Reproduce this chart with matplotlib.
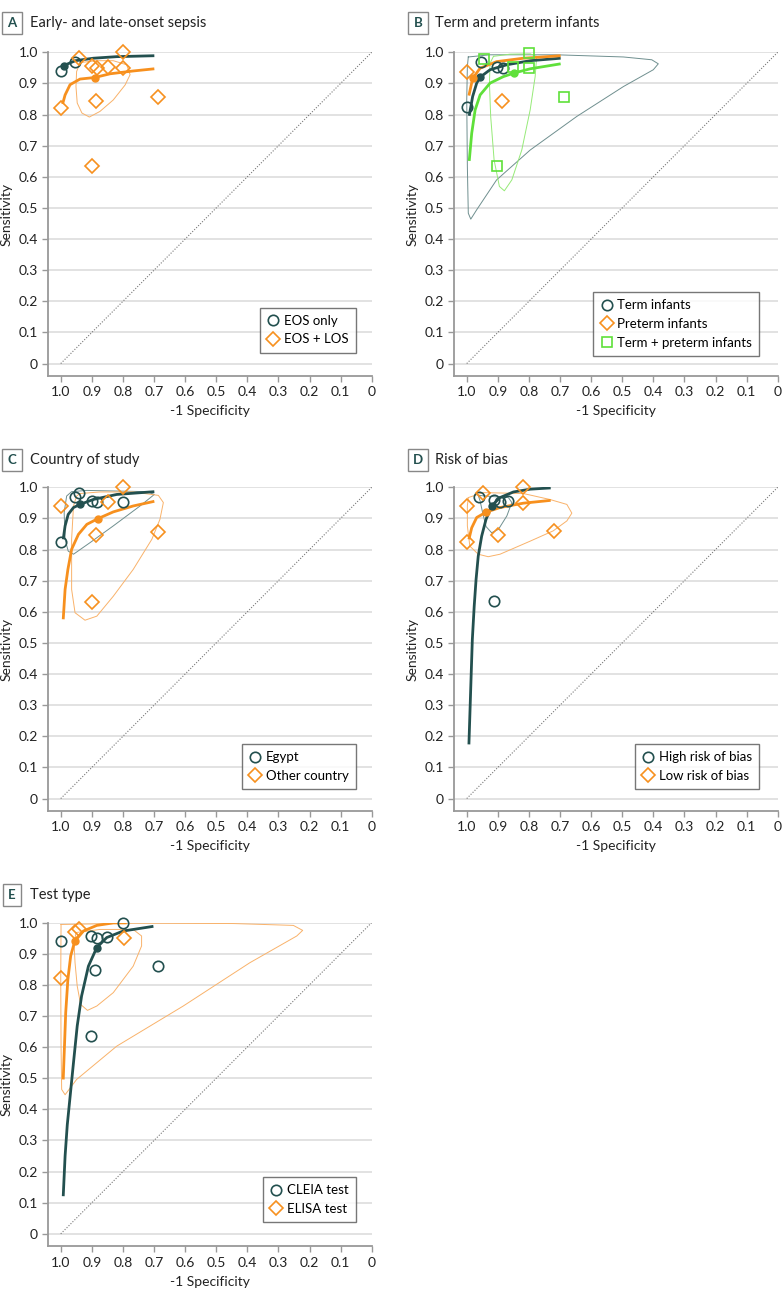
"""
SROC plots by subgroup - 5 panels (A-E)
"""
import matplotlib
matplotlib.use('Agg')
import matplotlib.pyplot as plt
from matplotlib.lines import Line2D
from matplotlib.ticker import FuncFormatter

plt.rcParams['font.family'] = ['Lato', 'DejaVu Sans']

DARK = '#23504f'
ORANGE = '#f7901e'
GREEN = '#5fe03a'
DARK_REG = '#6f8f8f'
ORANGE_REG = '#f9b26a'
GREEN_REG = '#96ea78'

# ── Panel A: early- and late-onset sepsis ──
A_EOS_SPEC = [1.000, 0.953]
A_EOS_SENS = [0.940, 0.969]
A_EOS_SUM = [0.989, 0.957]
A_EOS_CURVE_SPEC = [0.999, 0.989, 0.953, 0.895, 0.820, 0.699]
A_EOS_CURVE_SENS = [0.951, 0.958, 0.973, 0.981, 0.986, 0.989]

A_LOS_SPEC = [0.941, 0.898, 0.884, 0.849, 0.799, 0.799, 1.000, 0.888, 0.687, 0.898]
A_LOS_SENS = [0.981, 0.956, 0.948, 0.953, 1.000, 0.949, 0.822, 0.845, 0.856, 0.635]
A_LOS_SUM = [0.891, 0.919]
A_LOS_CURVE_SPEC = [0.994, 0.986, 0.970, 0.938, 0.891, 0.841, 0.767, 0.699]
A_LOS_CURVE_SENS = [0.834, 0.863, 0.896, 0.914, 0.919, 0.931, 0.940, 0.947]
A_LOS_REG_SPEC = [0.938, 0.884, 0.831, 0.788, 0.777, 0.793, 0.831, 0.874, 0.908,
                  0.932, 0.947, 0.951, 0.949]
A_LOS_REG_SENS = [0.967, 0.973, 0.973, 0.960, 0.928, 0.895, 0.847, 0.810, 0.792,
                  0.805, 0.837, 0.890, 0.938]

# ── Panel B: term and preterm infants ──
B_TERM_SPEC = [1.000, 0.954, 0.902, 0.882]
B_TERM_SENS = [0.824, 0.968, 0.954, 0.949]
B_TERM_SUM = [0.957, 0.920]
B_TERM_CURVE_SPEC = [0.992, 0.981, 0.968, 0.957, 0.925, 0.871, 0.796, 0.698]
B_TERM_CURVE_SENS = [0.796, 0.858, 0.901, 0.920, 0.944, 0.960, 0.973, 0.981]
B_TERM_REG_SPEC = [0.995, 0.925, 0.711, 0.496, 0.405, 0.384, 0.400, 0.496, 0.646,
                   0.796, 0.904, 0.968, 0.987, 0.995, 0.998, 1.000, 0.998]
B_TERM_REG_SENS = [0.985, 0.992, 0.992, 0.985, 0.976, 0.963, 0.944, 0.890, 0.794,
                   0.686, 0.590, 0.494, 0.464, 0.483, 0.633, 0.847, 0.954]

B_PRE_SPEC = [1.000, 0.887]
B_PRE_SENS = [0.937, 0.845]
B_PRE_SUM = [0.981, 0.916]
B_PRE_CURVE_SPEC = [0.993, 0.981, 0.957, 0.904, 0.818, 0.698]
B_PRE_CURVE_SENS = [0.861, 0.916, 0.949, 0.970, 0.981, 0.989]

B_MIX_SPEC = [0.943, 0.800, 0.850, 0.800, 0.688, 0.902]
B_MIX_SENS = [0.978, 0.999, 0.952, 0.949, 0.857, 0.634]
B_MIX_SUM = [0.849, 0.933]
B_MIX_CURVE_SPEC = [0.992, 0.984, 0.973, 0.957, 0.925, 0.882, 0.849, 0.796, 0.698]
B_MIX_CURVE_SENS = [0.651, 0.740, 0.815, 0.863, 0.901, 0.922, 0.933, 0.947, 0.963]
B_MIX_REG_SPEC = [0.914, 0.861, 0.796, 0.775, 0.780, 0.796, 0.823, 0.855, 0.879,
                  0.895, 0.912, 0.923, 0.927, 0.925]
B_MIX_REG_SENS = [0.987, 0.994, 0.995, 0.987, 0.922, 0.815, 0.686, 0.590, 0.555,
                  0.569, 0.654, 0.794, 0.901, 0.965]

# ── Panel C: country of study ──
C_EGY_SPEC = [1.000, 0.953, 0.941, 0.900, 0.883, 0.800]
C_EGY_SENS = [0.825, 0.970, 0.982, 0.957, 0.952, 0.952]
C_EGY_SUM = [0.938, 0.945]
C_EGY_CURVE_SPEC = [0.992, 0.986, 0.976, 0.959, 0.938, 0.895, 0.820, 0.699]
C_EGY_CURVE_SENS = [0.833, 0.876, 0.913, 0.935, 0.945, 0.961, 0.977, 0.986]
C_EGY_REG_SPEC = [0.986, 0.989, 0.981, 0.965, 0.916, 0.820, 0.723, 0.699, 0.745,
                  0.831, 0.906, 0.959, 0.976]
C_EGY_REG_SENS = [0.833, 0.919, 0.972, 0.986, 0.990, 0.988, 0.986, 0.977, 0.940,
                  0.876, 0.822, 0.785, 0.795]

C_OTH_SPEC = [0.999, 0.799, 0.849, 0.887, 0.687, 0.898]
C_OTH_SENS = [0.939, 1.000, 0.954, 0.846, 0.856, 0.633]
C_OTH_SUM = [0.881, 0.899]
C_OTH_CURVE_SPEC = [0.992, 0.986, 0.977, 0.965, 0.943, 0.916, 0.881, 0.831, 0.767, 0.699]
C_OTH_CURVE_SENS = [0.576, 0.672, 0.736, 0.801, 0.849, 0.881, 0.899, 0.921, 0.940, 0.955]
C_OTH_REG_SPEC = [0.938, 0.874, 0.767, 0.686, 0.670, 0.681, 0.707, 0.767, 0.831,
                  0.884, 0.922, 0.954, 0.965, 0.965, 0.959, 0.949]
C_OTH_REG_SENS = [0.980, 0.985, 0.985, 0.974, 0.951, 0.897, 0.833, 0.736, 0.650,
                  0.586, 0.573, 0.597, 0.672, 0.833, 0.940, 0.972]

# ── Panel D: risk of bias ──
D_HIGH_SPEC = [0.959, 0.913, 0.893, 0.866, 0.911]
D_HIGH_SENS = [0.970, 0.958, 0.952, 0.956, 0.636]
D_HIGH_SUM = [0.920, 0.940]
D_HIGH_CURVE_SPEC = [0.993, 0.986, 0.982, 0.976, 0.970, 0.963, 0.952, 0.938, 0.920,
                     0.893, 0.850, 0.796, 0.730]
D_HIGH_CURVE_SENS = [0.174, 0.390, 0.511, 0.618, 0.704, 0.779, 0.843, 0.897, 0.940,
                     0.967, 0.985, 0.994, 0.998]
D_HIGH_REG_SPEC = [0.963, 0.914, 0.866, 0.855, 0.871, 0.898, 0.920, 0.938, 0.949, 0.957]
D_HIGH_REG_SENS = [0.974, 0.970, 0.967, 0.951, 0.908, 0.865, 0.854, 0.874, 0.919, 0.956]

D_LOW_SPEC = [1.000, 0.948, 0.820, 0.820, 1.000, 0.900, 0.720]
D_LOW_SENS = [0.939, 0.981, 1.000, 0.951, 0.825, 0.847, 0.858]
D_LOW_SUM = [0.938, 0.920]
D_LOW_CURVE_SPEC = [0.993, 0.984, 0.968, 0.938, 0.893, 0.818, 0.730]
D_LOW_CURVE_SENS = [0.833, 0.870, 0.903, 0.920, 0.935, 0.949, 0.958]
D_LOW_REG_SPEC = [0.995, 0.947, 0.818, 0.733, 0.678, 0.662, 0.678, 0.722, 0.796,
                  0.893, 0.931, 0.963, 0.990, 0.998, 0.998]
D_LOW_REG_SENS = [0.967, 0.983, 0.980, 0.961, 0.945, 0.917, 0.892, 0.860, 0.827,
                  0.785, 0.777, 0.785, 0.811, 0.876, 0.940]

# ── Panel E: test type ──
E_CLEIA_SPEC = [1.000, 0.903, 0.884, 0.850, 0.800, 0.891, 0.687, 0.902]
E_CLEIA_SENS = [0.941, 0.958, 0.951, 0.955, 1.000, 0.849, 0.860, 0.637]
E_CLEIA_SUM = [0.884, 0.920]
E_CLEIA_CURVE_SPEC = [0.992, 0.986, 0.979, 0.970, 0.959, 0.947, 0.933, 0.911, 0.884,
                      0.852, 0.799, 0.702]
E_CLEIA_CURVE_SENS = [0.121, 0.250, 0.350, 0.440, 0.550, 0.668, 0.764, 0.860, 0.920,
                      0.952, 0.973, 0.988]

E_ELISA_SPEC = [0.955, 0.942, 1.000, 0.797]
E_ELISA_SENS = [0.970, 0.981, 0.823, 0.949]
E_ELISA_SUM = [0.955, 0.940]
E_ELISA_CURVE_SPEC = [0.992, 0.988, 0.984, 0.977, 0.968, 0.955, 0.927, 0.884, 0.831, 0.788]
E_ELISA_CURVE_SENS = [0.496, 0.603, 0.711, 0.818, 0.893, 0.940, 0.973, 0.991, 0.999, 0.999]
E_ELISA_REG1_SPEC = [0.999, 0.767, 0.445, 0.252, 0.222, 0.241, 0.392, 0.606, 0.820,
                     0.949, 0.986, 0.997, 0.999, 1.000]
E_ELISA_REG1_SENS = [0.994, 0.998, 0.997, 0.991, 0.975, 0.957, 0.871, 0.732, 0.603,
                     0.496, 0.447, 0.464, 0.603, 0.818]
E_ELISA_REG2_SPEC = [0.951, 0.874, 0.767, 0.740, 0.740, 0.767, 0.831, 0.884, 0.914,
                     0.936, 0.947, 0.954, 0.957]
E_ELISA_REG2_SENS = [0.968, 0.978, 0.978, 0.957, 0.925, 0.860, 0.775, 0.732, 0.718,
                     0.737, 0.796, 0.871, 0.930]

TICKS = [1.0, 0.9, 0.8, 0.7, 0.6, 0.5, 0.4, 0.3, 0.2, 0.1, 0.0]


def fmt(v, _):
    return '0' if abs(v) < 1e-9 else f'{v:.1f}'


def group(label, marker, color, reg_color, spec, sens, summ, cspec, csens, regions=()):
    return dict(label=label, marker=marker, color=color, reg_color=reg_color,
                spec=spec, sens=sens, summ=summ, cspec=cspec, csens=csens,
                regions=regions)


def draw_panel(ax, groups, legend_anchor):
    ax.set_xlim(1.04, 0)
    ax.set_ylim(-0.04, 1.0)
    ax.set_xticks(TICKS)
    ax.set_yticks(TICKS)
    ax.xaxis.set_major_formatter(FuncFormatter(fmt))
    ax.yaxis.set_major_formatter(FuncFormatter(fmt))
    ax.tick_params(labelsize=10, labelcolor='#222', length=4, width=1, color='#999')
    ax.grid(axis='y', color='#dddddd', linewidth=1.2)
    ax.set_axisbelow(True)
    for s in ('top', 'right'):
        ax.spines[s].set_visible(False)
    for s in ('left', 'bottom'):
        ax.spines[s].set_color('#999')
        ax.spines[s].set_linewidth(1.3)

    ax.plot([1, 0], [0, 1], linestyle=(0, (1, 1.5)), color='#777', linewidth=0.8)

    for g in groups:
        for rs, rn in g['regions']:
            ax.plot(list(rs) + [rs[0]], list(rn) + [rn[0]], color=g['reg_color'],
                    linewidth=0.7, zorder=2)
    for g in groups:
        ax.plot(g['cspec'], g['csens'], color=g['color'], linewidth=2.0,
                solid_capstyle='butt', solid_joinstyle='round', zorder=3)
        ax.plot(g['spec'], g['sens'], linestyle='none', marker=g['marker'],
                ms=7 if g['marker'] == 'D' else 7.5, mfc='none', mec=g['color'],
                mew=1.2, clip_on=False, zorder=4)
        ax.plot([g['summ'][0]], [g['summ'][1]], marker='o', ms=5, color=g['color'],
                linestyle='none', zorder=5)

    handles = [Line2D([], [], linestyle='none', marker=g['marker'], mfc='none',
                      mec=g['color'], mew=1.2, ms=7 if g['marker'] == 'D' else 7.5)
               for g in groups]
    leg = ax.legend(handles, [g['label'] for g in groups], loc='lower right',
                    bbox_to_anchor=legend_anchor, fontsize=9.5, frameon=True,
                    fancybox=False, edgecolor='#555', handlelength=0.9,
                    handletextpad=0.35, borderpad=0.55, labelspacing=0.5,
                    borderaxespad=0)
    leg.get_frame().set_linewidth(1.0)

    ax.set_ylabel('Sensitivity', fontsize=10, color='#222')
    ax.yaxis.set_label_coords(-0.112, 0.5)
    ax.set_xlabel('-1 Specificity', fontsize=10, color='#222', labelpad=5)


def panel_title(fig, x_box, x_text, y, letter, text):
    fig.text(x_box, y, letter, ha='center', va='center', fontsize=9.5,
             fontweight='bold', color=DARK,
             bbox=dict(boxstyle='square,pad=0.4', fc='white', ec='#888', lw=1.0))
    fig.text(x_text, y, text, ha='left', va='center', fontsize=10.5, color='#222')


fig = plt.figure(figsize=(7.83, 13.01), dpi=100)
W, H = 323.4 / 783, 323.7 / 1301
axA = fig.add_axes([48.3 / 783, 1 - 376 / 1301, W, H])
axB = fig.add_axes([454.3 / 783, 1 - 376 / 1301, W, H])
axC = fig.add_axes([48.3 / 783, 1 - 811 / 1301, W, H])
axD = fig.add_axes([454.3 / 783, 1 - 811 / 1301, W, H])
axE = fig.add_axes([48.3 / 783, 1 - 1246.3 / 1301, W, H])

draw_panel(axA, [
    group('EOS only', 'o', DARK, DARK_REG, A_EOS_SPEC, A_EOS_SENS, A_EOS_SUM,
          A_EOS_CURVE_SPEC, A_EOS_CURVE_SENS),
    group('EOS + LOS', 'D', ORANGE, ORANGE_REG, A_LOS_SPEC, A_LOS_SENS, A_LOS_SUM,
          A_LOS_CURVE_SPEC, A_LOS_CURVE_SENS, [(A_LOS_REG_SPEC, A_LOS_REG_SENS)]),
], (0.951, 0.072))

draw_panel(axB, [
    group('Term infants', 'o', DARK, DARK_REG, B_TERM_SPEC, B_TERM_SENS, B_TERM_SUM,
          B_TERM_CURVE_SPEC, B_TERM_CURVE_SENS, [(B_TERM_REG_SPEC, B_TERM_REG_SENS)]),
    group('Preterm infants', 'D', ORANGE, ORANGE_REG, B_PRE_SPEC, B_PRE_SENS, B_PRE_SUM,
          B_PRE_CURVE_SPEC, B_PRE_CURVE_SENS),
    group('Term + preterm infants', 's', GREEN, GREEN_REG, B_MIX_SPEC, B_MIX_SENS,
          B_MIX_SUM, B_MIX_CURVE_SPEC, B_MIX_CURVE_SENS,
          [(B_MIX_REG_SPEC, B_MIX_REG_SENS)]),
], (0.943, 0.062))

draw_panel(axC, [
    group('Egypt', 'o', DARK, DARK_REG, C_EGY_SPEC, C_EGY_SENS, C_EGY_SUM,
          C_EGY_CURVE_SPEC, C_EGY_CURVE_SENS, [(C_EGY_REG_SPEC, C_EGY_REG_SENS)]),
    group('Other country', 'D', ORANGE, ORANGE_REG, C_OTH_SPEC, C_OTH_SENS, C_OTH_SUM,
          C_OTH_CURVE_SPEC, C_OTH_CURVE_SENS, [(C_OTH_REG_SPEC, C_OTH_REG_SENS)]),
], (0.951, 0.067))

draw_panel(axD, [
    group('High risk of bias', 'o', DARK, DARK_REG, D_HIGH_SPEC, D_HIGH_SENS, D_HIGH_SUM,
          D_HIGH_CURVE_SPEC, D_HIGH_CURVE_SENS, [(D_HIGH_REG_SPEC, D_HIGH_REG_SENS)]),
    group('Low risk of bias', 'D', ORANGE, ORANGE_REG, D_LOW_SPEC, D_LOW_SENS, D_LOW_SUM,
          D_LOW_CURVE_SPEC, D_LOW_CURVE_SENS, [(D_LOW_REG_SPEC, D_LOW_REG_SENS)]),
], (0.943, 0.068))

draw_panel(axE, [
    group('CLEIA test', 'o', DARK, DARK_REG, E_CLEIA_SPEC, E_CLEIA_SENS, E_CLEIA_SUM,
          E_CLEIA_CURVE_SPEC, E_CLEIA_CURVE_SENS),
    group('ELISA test', 'D', ORANGE, ORANGE_REG, E_ELISA_SPEC, E_ELISA_SENS, E_ELISA_SUM,
          E_ELISA_CURVE_SPEC, E_ELISA_CURVE_SENS,
          [(E_ELISA_REG1_SPEC, E_ELISA_REG1_SENS), (E_ELISA_REG2_SPEC, E_ELISA_REG2_SENS)]),
], (0.951, 0.075))

panel_title(fig, 12 / 783, 30 / 783, 1 - 23 / 1301, 'A', 'Early- and late-onset sepsis')
panel_title(fig, 418 / 783, 435 / 783, 1 - 23 / 1301, 'B', 'Term and preterm infants')
panel_title(fig, 12 / 783, 30 / 783, 1 - 460 / 1301, 'C', 'Country of study')
panel_title(fig, 418 / 783, 435 / 783, 1 - 460 / 1301, 'D', 'Risk of bias')
panel_title(fig, 12 / 783, 30 / 783, 1 - 895 / 1301, 'E', 'Test type')

fig.savefig('out.png', dpi=100)
print('saved out.png')
